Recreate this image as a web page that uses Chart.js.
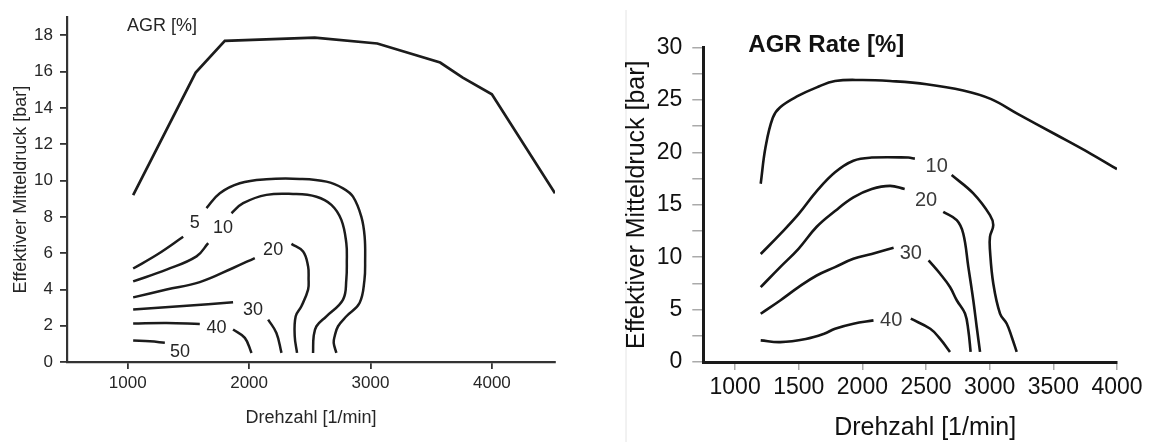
<!DOCTYPE html>
<html>
<head>
<meta charset="utf-8">
<script src="https://cdn.jsdelivr.net/npm/chart.js@4.4.1/dist/chart.umd.min.js"></script>
<style>
  body { margin: 0; background: #fff; width: 1150px; height: 442px; position: relative; overflow: hidden; }
  canvas { position: absolute; top: 0; }
  #leftChart { left: 0; }
  #rightChart { left: 575px; }
</style>
</head>
<body>
<canvas id="leftChart" width="575" height="442"></canvas>
<canvas id="rightChart" width="575" height="442"></canvas>
<script>
// ---- left map (AGR [%]) ----
const leftXTicks = [1000, 2000, 3000, 4000];
const leftYTicks = [0, 2, 4, 6, 8, 10, 12, 14, 16, 18];

const leftFullLoad = [[1045, 9.2], [1560, 15.95], [1800, 17.7], [2540, 17.87], [3056, 17.55], [3574, 16.5], [3760, 15.67], [4000, 14.75], [4520, 9.3]];

const leftAgr5a = [[1045, 5.15], [1250, 5.95], [1457, 6.9]];
const leftAgr5b = [[1649, 8.48], [1759, 9.3], [1923, 9.85], [2143, 10.07], [2417, 10.09], [2637, 9.94], [2774, 9.57], [2856, 9.11], [2925, 8.0], [2952, 6.9], [2956, 5.6], [2950, 4.5], [2910, 3.25], [2802, 2.52], [2733, 1.97], [2705, 1.42], [2697, 1.05], [2719, 0.5]];
const leftAgr10a = [[1045, 4.44], [1320, 5.09], [1567, 5.82], [1663, 6.55]];
const leftAgr10b = [[1855, 8.2], [1951, 8.75], [2143, 9.21], [2362, 9.26], [2555, 9.11], [2678, 8.66], [2760, 7.83], [2801, 6.55], [2805, 5.5], [2801, 4.54], [2774, 3.44], [2637, 2.52], [2555, 1.97], [2532, 1.42], [2527, 0.5]];
const leftAgr20a = [[1045, 3.56], [1320, 3.99], [1594, 4.4], [1868, 5.18], [2047, 5.73]];
const leftAgr20b = [[2349, 6.51], [2445, 6.09], [2486, 5.27], [2490, 4.6], [2486, 3.99], [2431, 3.07], [2384, 2.52], [2376, 1.42], [2395, 0.5]];
const leftAgr30a = [[1045, 2.89], [1457, 3.08], [1868, 3.29]];
const leftAgr30b = [[2157, 2.34], [2225, 1.6], [2267, 0.5]];
const leftAgr40a = [[1045, 2.12], [1320, 2.15], [1594, 2.1]];
const leftAgr40b = [[1868, 1.79], [1965, 1.33], [2020, 0.5]];
const leftAgr50 = [[1045, 1.18], [1183, 1.14], [1306, 1.06]];

const leftLabelText = ['5', '10', '20', '30', '40', '50'];
const leftLabelX = [1553, 1786, 2198, 2033, 1731, 1430];
const leftLabelY = [7.65, 7.38, 6.18, 2.89, 1.86, 0.54];

// ---- right map (AGR Rate [%]) ----
const rightXTicks = [1000, 1500, 2000, 2500, 3000, 3500, 4000];
const rightYTicks = [0, 5, 10, 15, 20, 25, 30];
const rightYMinor = [2.5, 7.5, 12.5, 17.5, 22.5, 27.5];

const rightFullLoad = [[1201, 17.0], [1239, 20.5], [1296, 23.3], [1354, 24.3], [1498, 25.4], [1641, 26.2], [1785, 26.8], [2001, 26.9], [2217, 26.8], [2504, 26.5], [2792, 25.9], [3007, 25.1], [3223, 23.65], [3511, 21.75], [3798, 19.84], [4000, 18.4]];

const rightAgr10a = [[1201, 10.3], [1354, 12.2], [1498, 14.1], [1641, 16.3], [1785, 18.1], [1929, 19.2], [2073, 19.5], [2360, 19.5], [2412, 19.4]];
const rightAgr10b = [[2701, 17.83], [2871, 16.08], [3002, 14.01], [3028, 13.06], [3002, 11.94], [3002, 10.67], [3028, 7.49], [3081, 4.62], [3133, 3.67], [3173, 2.39], [3212, 0.96]];
const rightAgr20a = [[1201, 7.14], [1354, 9.05], [1498, 10.8], [1641, 12.9], [1785, 14.4], [1929, 15.7], [2073, 16.5], [2217, 16.8], [2332, 16.5]];
const rightAgr20b = [[2635, 14.33], [2741, 13.53], [2792, 12.26], [2832, 9.07], [2871, 5.89], [2898, 3.34], [2924, 0.96]];
const rightAgr30a = [[1201, 4.6], [1354, 5.87], [1498, 7.14], [1641, 8.25], [1785, 9.05], [1929, 9.84], [2073, 10.3], [2245, 10.9]];
const rightAgr30b = [[2520, 9.7], [2609, 8.44], [2688, 7.16], [2741, 5.89], [2806, 4.62], [2832, 3.03], [2850, 0.96]];
const rightAgr40a = [[1201, 2.06], [1354, 1.9], [1555, 2.2], [1699, 2.7], [1785, 3.17], [1929, 3.65], [2087, 3.97]];
const rightAgr40b = [[2380, 4.13], [2533, 3.17], [2609, 2.23], [2688, 0.96]];

const rightLabelText = ['10', '20', '30', '40'];
const rightLabelX = [2583, 2500, 2380, 2226];
const rightLabelY = [18.65, 15.4, 10.33, 3.98];

Chart.defaults.font.family = '"Liberation Sans", Arial, sans-serif';
Chart.defaults.animation = false;

function curve(arr, width, color, tension) {
  return {
    data: arr.map(p => ({ x: p[0], y: p[1] })),
    showLine: true,
    borderColor: color,
    borderWidth: width,
    pointRadius: 0,
    tension: tension,
    fill: false
  };
}

// contour value labels, map heading and (optional) own x title
const mapText = {
  id: 'mapText',
  beforeDraw(chart, args, opts) {
    if (opts.frameX === undefined) return;
    const ctx = chart.ctx;
    ctx.save();
    ctx.strokeStyle = '#e4e4e4';
    ctx.lineWidth = 1;
    ctx.beginPath();
    ctx.moveTo(opts.frameX, 10);
    ctx.lineTo(opts.frameX, chart.height);
    ctx.stroke();
    ctx.restore();
  },
  afterDatasetsDraw(chart, args, opts) {
    const { ctx, scales: { x, y }, chartArea } = chart;
    ctx.save();
    ctx.fillStyle = opts.color;
    ctx.font = opts.font;
    ctx.textAlign = 'center';
    ctx.textBaseline = 'middle';
    opts.text.forEach((t, i) => {
      ctx.fillText(t, x.getPixelForValue(opts.xs[i]), y.getPixelForValue(opts.ys[i]));
    });
    ctx.font = opts.headFont;
    ctx.fillStyle = opts.headColor;
    ctx.textAlign = 'left';
    ctx.fillText(opts.heading, chartArea.left + opts.headDx, opts.headY);
    if (opts.xTitle) {
      ctx.font = opts.xTitleFont;
      ctx.textAlign = 'center';
      ctx.fillText(opts.xTitle, (chartArea.left + chartArea.right) / 2 + opts.xTitleDx, opts.xTitleY);
    }
    ctx.restore();
  }
};

const setTicks = list => scale => { scale.ticks = list.map(v => ({ value: v })); };

// left chart
const leftColor = '#1c1c1c';
const lw = 2.5;
new Chart(document.getElementById('leftChart'), {
  type: 'scatter',
  data: {
    datasets: [
      curve(leftFullLoad, 2.7, leftColor, 0),
      curve(leftAgr5a, lw, leftColor, 0.4),
      curve(leftAgr5b, lw, leftColor, 0.4),
      curve(leftAgr10a, lw, leftColor, 0.4),
      curve(leftAgr10b, lw, leftColor, 0.4),
      curve(leftAgr20a, lw, leftColor, 0.4),
      curve(leftAgr20b, lw, leftColor, 0.4),
      curve(leftAgr30a, lw, leftColor, 0.4),
      curve(leftAgr30b, lw, leftColor, 0.4),
      curve(leftAgr40a, lw, leftColor, 0.4),
      curve(leftAgr40b, lw, leftColor, 0.4),
      curve(leftAgr50, lw, leftColor, 0.4)
    ]
  },
  options: {
    responsive: false,
    layout: { padding: { left: 0, right: 20, top: 17, bottom: 0 } },
    plugins: {
      legend: { display: false },
      tooltip: { enabled: false },
      mapText: {
        text: leftLabelText, xs: leftLabelX, ys: leftLabelY,
        font: '18px "Liberation Sans", Arial, sans-serif', color: '#262626',
        heading: 'AGR [%]', headFont: '18px "Liberation Sans", Arial, sans-serif', headColor: '#262626',
        headDx: 60, headY: 26
      }
    },
    scales: {
      x: {
        type: 'linear', min: 500, max: 4520,
        afterBuildTicks: setTicks(leftXTicks),
        afterFit: s => { s.height = 80; },
        border: { color: '#333', width: 2.2 },
        grid: { drawOnChartArea: false, drawTicks: true, tickLength: 7, color: '#333', lineWidth: 1.8 },
        ticks: { color: '#262626', font: { size: 17 }, padding: 4, maxRotation: 0, autoSkip: false, callback: v => String(v) },
        title: { display: true, text: 'Drehzahl [1/min]', color: '#262626', font: { size: 18 }, padding: { top: 0, bottom: 13 } }
      },
      y: {
        type: 'linear', min: 0, max: 19,
        afterBuildTicks: setTicks(leftYTicks),
        afterFit: s => { s.width = 67; },
        border: { color: '#333', width: 2.2 },
        grid: { drawOnChartArea: false, drawTicks: true, tickLength: 7, color: '#333', lineWidth: 1.8 },
        ticks: { color: '#262626', font: { size: 17 }, padding: 7, autoSkip: false, callback: v => String(v) },
        title: { display: true, text: 'Effektiver Mitteldruck [bar]', color: '#262626', font: { size: 18 }, padding: { top: 10, bottom: 0 } }
      }
    }
  },
  plugins: [mapText]
});

// right chart
const rightColor = '#161616';
new Chart(document.getElementById('rightChart'), {
  type: 'scatter',
  data: {
    datasets: [
      curve(rightFullLoad, 2.6, rightColor, 0.4),
      curve(rightAgr10a, 2.6, rightColor, 0.4),
      curve(rightAgr10b, 2.6, rightColor, 0.4),
      curve(rightAgr20a, 2.6, rightColor, 0.4),
      curve(rightAgr20b, 2.6, rightColor, 0.4),
      curve(rightAgr30a, 2.6, rightColor, 0.4),
      curve(rightAgr30b, 2.6, rightColor, 0.4),
      curve(rightAgr40a, 2.6, rightColor, 0.4),
      curve(rightAgr40b, 2.6, rightColor, 0.4)
    ]
  },
  options: {
    responsive: false,
    layout: { padding: { left: 0, right: 33, top: 47.5, bottom: 0 } },
    plugins: {
      legend: { display: false },
      tooltip: { enabled: false },
      mapText: {
        text: rightLabelText, xs: rightLabelX, ys: rightLabelY,
        font: '20px "Liberation Sans", Arial, sans-serif', color: '#3a3a3a',
        heading: 'AGR Rate [%]', headFont: 'bold 24px "Liberation Sans", Arial, sans-serif', headColor: '#111',
        headDx: 45, headY: 45,
        xTitle: 'Drehzahl [1/min]', xTitleFont: '25px "Liberation Sans", Arial, sans-serif',
        xTitleDx: 15, xTitleY: 428,
        frameX: 51
      }
    },
    scales: {
      x: {
        type: 'linear', min: 750, max: 4000,
        afterBuildTicks: setTicks(rightXTicks),
        afterFit: s => { s.height = 80; },
        border: { color: '#1a1a1a', width: 3 },
        grid: { drawOnChartArea: false, drawTicks: true, tickLength: 8, color: '#aaa', lineWidth: 1.5 },
        ticks: { color: '#111', font: { size: 23 }, padding: 4, maxRotation: 0, autoSkip: false, callback: v => String(v) }
      },
      y: {
        type: 'linear', min: 0, max: 30,
        afterBuildTicks: setTicks(rightYTicks.concat(rightYMinor).sort((a, b) => a - b)),
        afterFit: s => { s.width = 128.3; },
        border: { color: '#1a1a1a', width: 3 },
        grid: { drawOnChartArea: false, drawTicks: true, tickLength: 11, color: '#aaa', lineWidth: 1.5 },
        ticks: { color: '#111', font: { size: 23 }, padding: 10, autoSkip: false, callback: v => rightYTicks.includes(v) ? String(v) : '' },
        title: { display: true, text: 'Effektiver Mitteldruck [bar]', color: '#111', font: { size: 25 }, padding: { top: 47, bottom: 0 } }
      }
    }
  },
  plugins: [mapText]
});
</script>
</body>
</html>
